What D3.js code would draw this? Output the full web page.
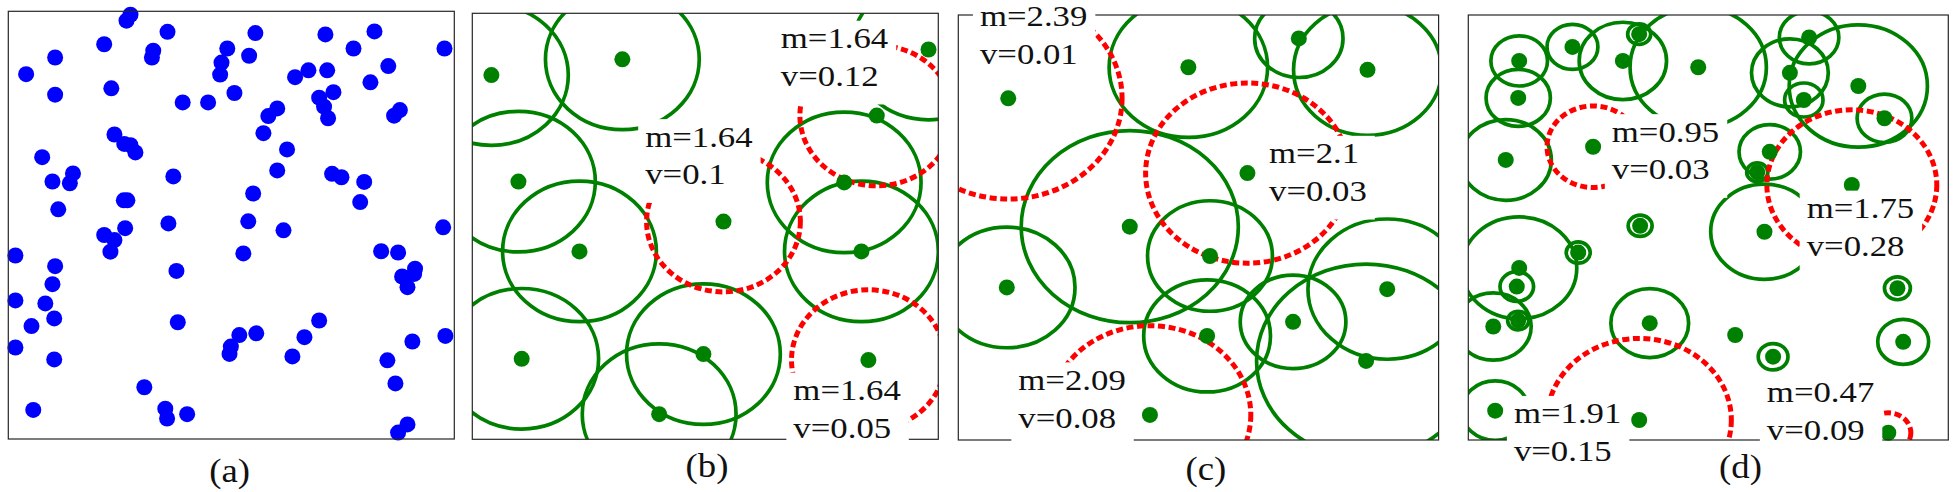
<!DOCTYPE html>
<html><head><meta charset="utf-8">
<script src="https://cdn.jsdelivr.net/npm/d3@7"></script>
<style>body{margin:0;background:#fff} svg{display:block}</style>
</head><body>
<svg id="chart" width="1953" height="492"></svg>
<script>
// ---- data (unit square coordinates, y up) ----
const pointsA = [
 [0.274,0.992],[0.265,0.978],[0.357,0.952],[0.554,0.949],[0.711,0.946],[0.821,0.953],[0.978,0.913],
 [0.215,0.923],[0.325,0.908],[0.322,0.892],[0.491,0.913],[0.540,0.896],[0.774,0.913],[0.105,0.892],
 [0.478,0.880],[0.475,0.852],[0.040,0.853],[0.673,0.862],[0.643,0.846],[0.715,0.862],[0.852,0.872],
 [0.812,0.834],[0.231,0.820],[0.105,0.805],[0.507,0.809],[0.391,0.787],[0.448,0.787],[0.729,0.811],
 [0.697,0.798],[0.708,0.777],[0.717,0.750],[0.603,0.773],[0.583,0.755],[0.878,0.769],[0.865,0.756],
 [0.572,0.715],[0.238,0.712],[0.260,0.690],[0.274,0.687],[0.285,0.670],[0.625,0.677],[0.076,0.659],
 [0.603,0.628],[0.726,0.620],[0.747,0.612],[0.145,0.621],[0.138,0.598],[0.099,0.602],[0.370,0.614],
 [0.798,0.601],[0.549,0.574],[0.259,0.558],[0.267,0.558],[0.789,0.554],[0.112,0.537],[0.359,0.504],
 [0.538,0.509],[0.262,0.493],[0.617,0.488],[0.975,0.495],[0.215,0.477],[0.238,0.465],[0.229,0.438],
 [0.527,0.434],[0.016,0.429],[0.836,0.439],[0.874,0.436],[0.105,0.404],[0.377,0.393],[0.912,0.398],
 [0.910,0.386],[0.883,0.380],[0.895,0.355],[0.099,0.362],[0.016,0.324],[0.083,0.317],[0.103,0.282],
 [0.052,0.264],[0.380,0.273],[0.697,0.277],[0.518,0.243],[0.556,0.247],[0.499,0.216],[0.496,0.199],
 [0.664,0.238],[0.906,0.228],[0.980,0.241],[0.016,0.214],[0.103,0.186],[0.637,0.193],[0.850,0.184],
 [0.868,0.130],[0.305,0.121],[0.056,0.068],[0.352,0.071],[0.356,0.048],[0.401,0.058],[0.895,0.034],
 [0.874,0.015]
];
// [x, y, radius, highlighted]
const circlesB = [
 [0.041,0.855,0.165,0],[0.322,0.892,0.165,0],[0.979,0.915,0.165,0],[0.868,0.760,0.165,1],
 [0.099,0.605,0.165,0],[0.539,0.511,0.165,1],[0.230,0.441,0.165,0],[0.798,0.603,0.165,0],
 [0.835,0.441,0.165,0],[0.106,0.189,0.165,0],[0.496,0.200,0.165,0],[0.850,0.186,0.165,1],
 [0.401,0.059,0.165,0]
];
const circlesC = [
 [0.104,0.804,0.237,1],[0.479,0.877,0.165,0],[0.709,0.945,0.092,0],[0.852,0.871,0.154,0],
 [0.602,0.628,0.212,1],[0.357,0.502,0.226,0],[0.101,0.359,0.142,0],[0.524,0.433,0.130,0],
 [0.518,0.245,0.132,0],[0.697,0.278,0.110,0],[0.893,0.355,0.165,0],[0.849,0.186,0.228,0],
 [0.399,0.059,0.210,1]
];
const circlesD = [
 [0.106,0.892,0.059,0],[0.104,0.805,0.067,0],[0.217,0.925,0.053,0],[0.322,0.892,0.091,0],
 [0.356,0.955,0.024,0],[0.479,0.877,0.142,0],[0.078,0.659,0.095,0],[0.260,0.690,0.096,1],
 [0.358,0.504,0.025,0],[0.229,0.441,0.025,0],[0.106,0.405,0.120,0],[0.101,0.361,0.035,0],
 [0.104,0.281,0.022,0],[0.052,0.267,0.079,0],[0.056,0.069,0.070,0],[0.378,0.275,0.081,0],
 [0.356,0.047,0.192,1],[0.710,0.947,0.062,0],[0.670,0.864,0.080,0],[0.699,0.800,0.040,0],
 [0.8125,0.833,0.144,0],[0.867,0.757,0.057,0],[0.799,0.600,0.177,1],[0.628,0.678,0.064,0],
 [0.602,0.630,0.022,0],[0.617,0.490,0.112,0],[0.894,0.357,0.027,0],[0.906,0.231,0.053,0],
 [0.556,0.247,0,0],[0.635,0.196,0.031,0],[0.875,0.017,0.047,1]
];
// annotations: [m, v, x, y] (text anchor in data units)
const labelsB = [["1.64","0.1",0.371,0.687],["1.64","0.12",0.662,0.918],["1.64","0.05",0.689,0.092]];
const labelsC = [["2.39","0.01",0.045,0.974],["2.1","0.03",0.647,0.651],["2.09","0.08",0.125,0.118]];
const labelsD = [["0.95","0.03",0.299,0.702],["1.75","0.28",0.705,0.522],["1.91","0.15",0.095,0.039],["0.47","0.09",0.622,0.089]];
const captions = ["(a)","(b)","(c)","(d)"];

// ---- layout ----
const layout = [
 {l:8.3,   t:11.3, w:446,   h:427.7, cx:229.7,  cy:482},
 {l:472.3, t:13.3, w:466,   h:426,   cx:707,    cy:477},
 {l:958.3, t:15,   w:480.3, h:425,   cx:1205.8, cy:480},
 {l:1468.3,t:15,   w:480,   h:425,   cx:1740.5, cy:478}
];
const FONT = "'Liberation Serif','Times New Roman',serif";
const svg = d3.select("#chart");
const defs = svg.append("defs");

function panel(i, points, circles, labels, dotColor) {
  const L = layout[i];
  const x = d3.scaleLinear().domain([0,1]).range([L.l, L.l+L.w]);
  const y = d3.scaleLinear().domain([0,1]).range([L.t+L.h, L.t]);
  const g = svg.append("g");
  defs.append("clipPath").attr("id","clip"+i).append("rect")
    .attr("x",L.l).attr("y",L.t).attr("width",L.w).attr("height",L.h);
  const cg = g.append("g").attr("clip-path","url(#clip"+i+")");
  const rings = circles.filter(c => c[2] > 0);
  cg.selectAll("ellipse.g").data(rings.filter(c=>!c[3])).join("ellipse")
    .attr("cx",d=>x(d[0])).attr("cy",d=>y(d[1]))
    .attr("rx",d=>x(d[2])-x(0)).attr("ry",d=>y(0)-y(d[2]))
    .attr("fill","none").attr("stroke","#008000").attr("stroke-width",3.7);
  cg.selectAll("ellipse.r").data(rings.filter(c=>c[3])).join("ellipse")
    .attr("cx",d=>x(d[0])).attr("cy",d=>y(d[1]))
    .attr("rx",d=>x(d[2])-x(0)).attr("ry",d=>y(0)-y(d[2]))
    .attr("fill","none").attr("stroke","#ff0000").attr("stroke-width",5)
    .attr("stroke-dasharray","7,3.6");
  g.selectAll("circle.dot").data(points).join("circle")
    .attr("cx",d=>x(d[0])).attr("cy",d=>y(d[1])).attr("r",8).attr("fill",dotColor);
  g.append("rect").attr("x",L.l).attr("y",L.t).attr("width",L.w).attr("height",L.h)
    .attr("fill","none").attr("stroke","#262626").attr("stroke-width",1.2);
  const SX = 1.22, LH = 37.7;
  (labels||[]).forEach(lb => {
    const lg = g.append("g");
    const bx = x(lb[2]), by = y(lb[3]);
    const rect = lg.append("rect").attr("fill","#fff");
    const lines = ["m="+lb[0], "v="+lb[1]];
    let wmax = 0;
    lines.forEach((s,k) => {
      const t = lg.append("text").attr("transform",`translate(${bx},${by+k*LH}) scale(${SX},1)`)
        .attr("font-family",FONT).attr("font-size",28.5).attr("fill","#111").text(s);
      wmax = Math.max(wmax, t.node().getComputedTextLength()*SX);
    });
    rect.attr("x",bx-7).attr("y",by-27.5).attr("width",wmax+15).attr("height",LH+27.5+18.5);
  });
  svg.append("text").attr("transform",`translate(${L.cx},${L.cy}) scale(1.08,1)`)
    .attr("text-anchor","middle").attr("font-family",FONT).attr("font-size",34)
    .attr("fill","#111").text(captions[i]);
}
panel(0, pointsA, [], null, "#0000ff");
panel(1, circlesB, circlesB, labelsB, "#008000");
panel(2, circlesC, circlesC, labelsC, "#008000");
panel(3, circlesD, circlesD, labelsD, "#008000");
</script>
</body></html>
